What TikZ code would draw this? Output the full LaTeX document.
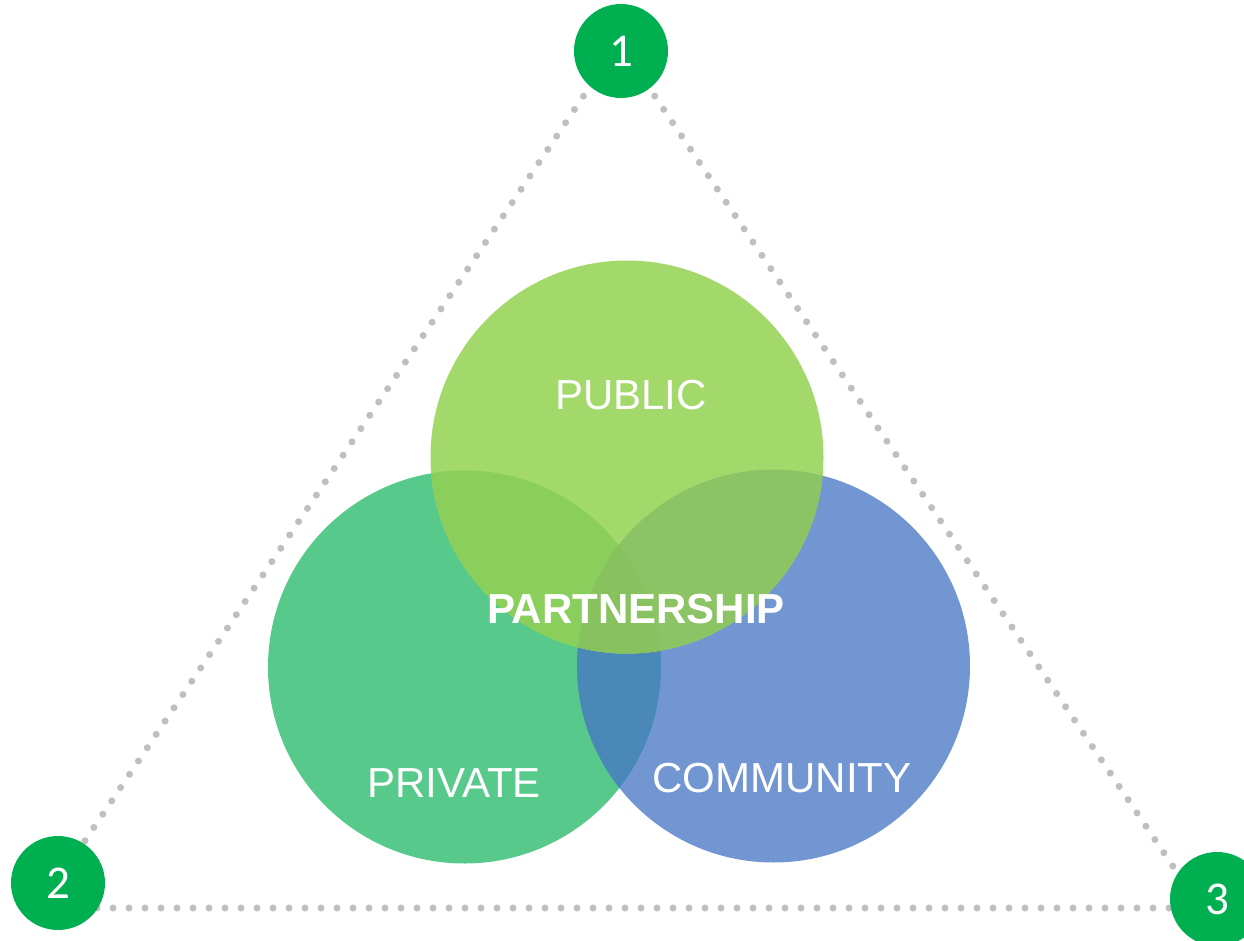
\documentclass[tikz,border=0pt]{standalone}
\usepackage{fontspec}
\setmainfont{Liberation Sans}
\newfontfamily\numfont{Carlito}
\definecolor{numgreen}{HTML}{00B050}
\definecolor{dotgray}{HTML}{BFBFBF}
\definecolor{cpri}{HTML}{57C98B}
\definecolor{ccom}{HTML}{7296D2}
\definecolor{cpub}{HTML}{A3D86A}
\definecolor{cpripub}{HTML}{8ACE5B}
\definecolor{cpubcom}{HTML}{8BC365}
\definecolor{cpricom}{HTML}{4A88B8}
\definecolor{ctriple}{HTML}{87C25F}
\tikzset{
  numnode/.style={circle, fill=numgreen, minimum size=94pt, inner sep=0pt, text=white, font=\numfont\fontsize{47}{56}\selectfont},
  dotline/.style={draw=dotgray, line width=7pt, line cap=round, dash pattern=on 0pt off 16pt},
  venn/.style={circle, minimum size=393pt, inner sep=0pt},
  lbl/.style={text=white, font=\fontsize{42}{50}\selectfont},
  boldlbl/.style={text=white, font=\bfseries\fontsize{42}{50}\selectfont}
}
\begin{document}
\begin{tikzpicture}[x=1pt,y=-1pt]
\useasboundingbox (0,0) rectangle (1244,941);
% venn circles
\node[venn, fill=cpri] (pri) at (464.5,667) {};
\node[venn, fill=ccom] (com) at (773.5,666) {};
\begin{scope}
  \clip (pri.center) circle (196.5pt);
  \fill[cpricom] (com.center) circle (196.5pt);
\end{scope}
\node[venn, fill=cpub] (pub) at (627,457) {};
\begin{scope}
  \clip (pub.center) circle (196.5pt);
  \fill[cpripub] (pri.center) circle (196.5pt);
  \fill[cpubcom] (com.center) circle (196.5pt);
  \clip (pri.center) circle (196.5pt);
  \fill[ctriple] (com.center) circle (196.5pt);
\end{scope}
% labels
\node[lbl] (tpub) at (631,395) {PUBLIC};
\node[boldlbl] (tpart) at (636,609) {PARTNERSHIP};
\node[lbl] (tpri) at (454,783) {PRIVATE};
\node[lbl] (tcom) at (782,778) {COMMUNITY};
% triangle
\coordinate (v1) at (619,43);
\coordinate (v2) at (40,908);
\coordinate (v3) at (1201,908);
\path[dotline] (v1) -- (v2);
\path[dotline] (v1) -- (v3);
\path[dotline] (v3) -- (v2);
\node[numnode] (n1) at (621,51) {1};
\node[numnode] (n2) at (58,883) {2};
\node[numnode] (n3) at (1217,899) {3};
\end{tikzpicture}
\end{document}
